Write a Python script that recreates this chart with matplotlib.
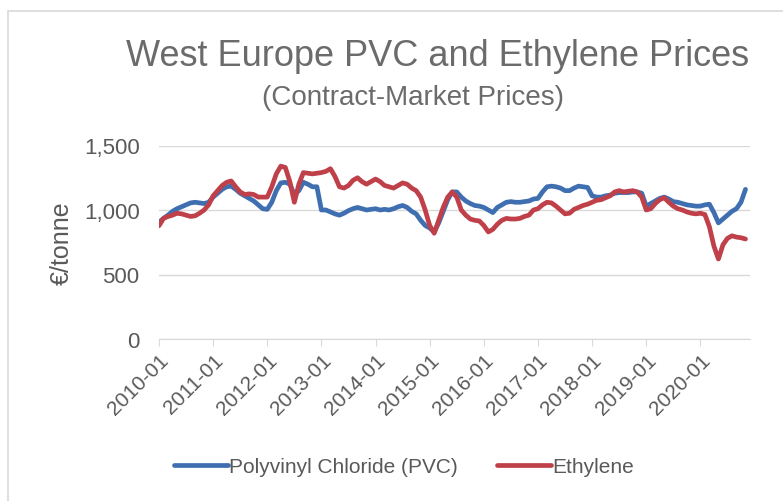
import matplotlib.pyplot as plt
from matplotlib.patches import Rectangle

plt.rcParams['font.family'] = ['Liberation Sans', 'DejaVu Sans']

# monthly prices, 2010-01 .. 2020-11 (EUR/tonne)
pvc = [
    905, 935, 960, 990, 1010, 1025, 1040, 1055, 1060, 1055, 1050, 1060,      # 2010
    1100, 1130, 1160, 1180, 1185, 1160, 1130, 1110, 1090, 1070, 1040, 1010,  # 2011
    1005, 1060, 1150, 1210, 1215, 1200, 1120, 1150, 1215, 1200, 1180, 1180,  # 2012
    1000, 1000, 985, 970, 960, 975, 995, 1010, 1020, 1010, 1000, 1005,       # 2013
    1010, 1000, 1005, 1000, 1010, 1025, 1035, 1020, 990, 970, 920, 880,      # 2014
    860, 830, 900, 990, 1080, 1140, 1140, 1100, 1070, 1050, 1035, 1030,      # 2015
    1020, 1000, 980, 1020, 1040, 1060, 1065, 1060, 1060, 1065, 1070, 1085,   # 2016
    1090, 1140, 1180, 1185, 1180, 1170, 1150, 1150, 1170, 1185, 1180, 1175,  # 2017
    1110, 1100, 1100, 1110, 1115, 1130, 1135, 1135, 1135, 1140, 1140, 1130,  # 2018
    1030, 1050, 1070, 1090, 1100, 1085, 1065, 1060, 1050, 1040, 1035, 1030,  # 2019
    1030, 1040, 1045, 980, 900, 930, 960, 990, 1010, 1060, 1160,             # 2020
]
ethylene = [
    878, 935, 950, 960, 975, 970, 960, 950, 955, 975, 1000, 1040,            # 2010
    1110, 1150, 1190, 1215, 1225, 1180, 1140, 1120, 1125, 1120, 1100, 1100,  # 2011
    1100, 1180, 1280, 1340, 1330, 1220, 1060, 1200, 1290, 1285, 1280, 1285,  # 2012
    1290, 1300, 1320, 1260, 1180, 1170, 1190, 1230, 1250, 1220, 1200, 1220,  # 2013
    1240, 1220, 1190, 1180, 1170, 1190, 1210, 1200, 1170, 1150, 1100, 1000,  # 2014
    880, 820, 920, 1020, 1100, 1140, 1100, 1000, 960, 930, 920, 915,         # 2015
    880, 830, 850, 890, 920, 935, 930, 930, 935, 950, 960, 1000,             # 2016
    1010, 1040, 1060, 1055, 1030, 1000, 970, 975, 1005, 1020, 1035, 1045,    # 2017
    1060, 1075, 1080, 1095, 1110, 1140, 1150, 1140, 1145, 1150, 1140, 1100,  # 2018
    1000, 1010, 1050, 1080, 1095, 1060, 1030, 1010, 1000, 985, 975, 970,     # 2019
    975, 965, 870, 720, 620, 730, 780, 800, 790, 785, 775,                   # 2020
]
years = list(range(2010, 2021))
tick_labels = [f'{y}-01' for y in years]

fig = plt.figure(figsize=(7.83, 5.02), dpi=100)

# chart frame
fig.patches.append(Rectangle((8 / 783, -0.1), 1.0, 1.1 - 12 / 502, transform=fig.transFigure,
                             fill=False, edgecolor='#d9d9d9', linewidth=1.2))

ax = fig.add_axes([159 / 783, 1 - 340 / 502, (750 - 159) / 783, (340 - 146.5) / 502])

x = list(range(len(pvc)))
ax.plot(x, pvc, color='#3f6fb0', linewidth=3.4, solid_capstyle='round', label='Polyvinyl Chloride (PVC)')
ax.plot(x, ethylene, color='#c0404a', linewidth=3.4, solid_capstyle='round', label='Ethylene')

ax.set_xlim(0, 131)
ax.set_ylim(0, 1500)
ax.set_yticks([0, 500, 1000, 1500])
ax.set_yticklabels(['0', '500', '1,000', '1,500'])
ax.set_xticks([12 * i for i in range(len(years))])
ax.set_xticklabels(tick_labels, rotation=45, ha='right', rotation_mode='anchor')

ax.grid(axis='y', color='#d9d9d9', linewidth=1)
ax.set_axisbelow(True)
for s in ['top', 'right', 'left']:
    ax.spines[s].set_visible(False)
ax.spines['bottom'].set_color('#d9d9d9')
ax.tick_params(axis='y', length=0, labelsize=16, colors='#595959', pad=14)
ax.tick_params(axis='x', length=5, color='#d9d9d9', labelsize=15, labelcolor='#595959', pad=3)

ax.set_ylabel('€/tonne', fontsize=18, color='#595959', labelpad=7)

fig.text(438 / 783, 1 - 56 / 502, 'West Europe PVC and Ethylene Prices', fontsize=26,
         color='#6b6b6b', ha='center', va='center')
fig.text(413 / 783, 1 - 98 / 502, '(Contract-Market Prices)', fontsize=20,
         color='#6b6b6b', ha='center', va='center')

fig.legend(loc='center', bbox_to_anchor=(404 / 783, 1 - 468 / 502), ncol=2, frameon=False,
           fontsize=15, handlelength=2.6, handletextpad=0.05,
           columnspacing=1.9, labelcolor='#595959')

fig.savefig('out.png', dpi=100)
